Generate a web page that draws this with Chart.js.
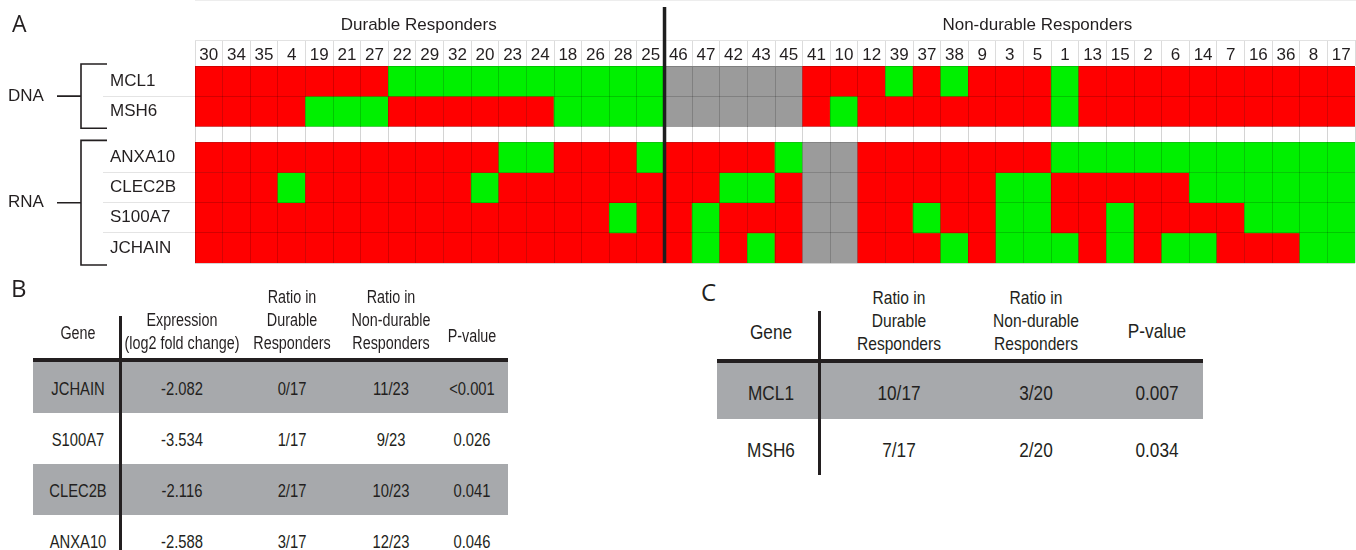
<!DOCTYPE html>
<html>
<head>
<meta charset="utf-8">
<script src="https://cdn.jsdelivr.net/npm/chart.js@4.4.0/dist/chart.umd.min.js"></script>
<style>
  body { margin: 0; background: #fff; width: 1356px; height: 550px; overflow: hidden; position: relative; color: #231f20; }
  #heatWrap { position: absolute; left: 0; top: 0; width: 1356px; height: 272px; }
  .t { position: absolute; transform: translate(-50%, -50%) scaleX(0.82); text-align: center; white-space: pre;
       font-family: "Liberation Sans", Arial, sans-serif; line-height: 23px; }
  .box { position: absolute; }
  .panel { position: absolute; font-family: "Open Sans", "Liberation Sans", sans-serif; font-size: 24px; line-height: 26px; }
</style>
</head>
<body>
<div id="heatWrap"><canvas id="heat" width="1356" height="272"></canvas></div>
<div id="tables"></div>
<script>
// patients, in heatmap column order
const patients = ['30','34','35','4','19','21','27','22','29','32','20','23','24','18','26','28','25',
  '46','47','42','43','45','41','10','12','39','37','38','9','3','5','1','13','15','2','6','14','7','16','36','8','17'];
const durableCount = 17;
const groupTitles = ['Durable Responders', 'Non-durable Responders'];
const groupCenters = [7.6, 30];

const genes = ['MCL1', 'MSH6', 'ANXA10', 'CLEC2B', 'S100A7', 'JCHAIN'];
const geneGroups = ['DNA', 'DNA', 'RNA', 'RNA', 'RNA', 'RNA'];

// 0 = red, 1 = green, null = not available (grey)
const N = null;
const MCL1   = [0,0,0,0,0,0,0, 1,1,1,1,1,1,1,1,1,1, N,N,N,N,N, 0,0,0,1,0,1,0,0,0,1, 0,0,0,0,0,0,0,0,0,0];
const MSH6   = [0,0,0,0, 1,1,1, 0,0,0,0,0,0, 1,1,1,1, N,N,N,N,N, 0,1, 0,0,0,0,0,0,0, 1, 0,0,0,0,0,0,0,0,0,0];
const ANXA10 = [0,0,0,0,0,0,0,0,0,0,0, 1,1, 0,0,0, 1, 0,0,0,0, 1, N,N, 0,0,0,0,0,0,0, 1,1,1,1,1,1,1,1,1,1,1];
const CLEC2B = [0,0,0, 1, 0,0,0,0,0,0, 1, 0,0,0,0,0,0, 0,0, 1,1, 0, N,N, 0,0,0,0,0, 1,1, 0,0,0,0,0, 1,1,1,1,1,1];
const S100A7 = [0,0,0,0,0,0,0,0,0,0,0,0,0,0,0, 1, 0, 0, 1, 0,0,0, N,N, 0,0, 1, 0,0, 1,1, 0,0, 1, 0,0,0,0, 1,1,1,1];
const JCHAIN = [0,0,0,0,0,0,0,0,0,0,0,0,0,0,0,0,0, 0, 1, 0, 1, 0, N,N, 0,0,0, 1, 0, 1,1,1, 0, 1, 0, 1,1, 0,0,0, 1,1];

// table B
const tableBHeaders = ['Gene', 'Expression\n(log2 fold change)', 'Ratio in\nDurable\nResponders', 'Ratio in\nNon-durable\nResponders', 'P-value'];
const tableBGenes = ['JCHAIN', 'S100A7', 'CLEC2B', 'ANXA10'];
const tableBExpression = ['-2.082', '-3.534', '-2.116', '-2.588'];
const tableBDurable = ['0/17', '1/17', '2/17', '3/17'];
const tableBNonDurable = ['11/23', '9/23', '10/23', '12/23'];
const tableBPValue = ['<0.001', '0.026', '0.041', '0.046'];

// table C
const tableCHeaders = ['Gene', 'Ratio in\nDurable\nResponders', 'Ratio in\nNon-durable\nResponders', 'P-value'];
const tableCGenes = ['MCL1', 'MSH6'];
const tableCDurable = ['10/17', '7/17'];
const tableCNonDurable = ['3/20', '2/20'];
const tableCPValue = ['0.007', '0.034'];

// ---------- heatmap ----------
const cells = {MCL1, MSH6, ANXA10, CLEC2B, S100A7, JCHAIN};
const ROW_GAP = 16 / 30;
const rowTop = i => i + (i >= 2 ? ROW_GAP : 0);
const yMax = genes.length + ROW_GAP;
const colorOf = v => v === null ? '#9b9b9b' : (v ? '#00f000' : '#ff0000');

const datasets = genes.map((g, i) => ({
  label: g,
  data: cells[g].map(() => [rowTop(i), rowTop(i) + 1]),
  backgroundColor: cells[g].map(colorOf),
  borderWidth: 0,
  grouped: false,
  barPercentage: 1,
  categoryPercentage: 1,
}));

const boundaries = [];
genes.forEach((g, i) => { boundaries.push(rowTop(i)); });
boundaries.push(2, yMax);
const innerLines = [1, rowTop(3), rowTop(4), rowTop(5)];

const panelDecor = {
  id: 'panelDecor',
  afterDraw(chart) {
    const {ctx, chartArea, scales: {x, y}} = chart;
    ctx.save();
    // header row top line
    ctx.strokeStyle = '#e2e2e2';
    ctx.lineWidth = 1;
    ctx.beginPath();
    ctx.moveTo(chartArea.left, chartArea.top - 26 + 0.5);
    ctx.lineTo(chartArea.right, chartArea.top - 26 + 0.5);
    ctx.stroke();

    // durable / non-durable divider
    const xd = (x.getPixelForValue(durableCount - 1) + x.getPixelForValue(durableCount)) / 2;
    ctx.strokeStyle = '#1e1e1e';
    ctx.lineWidth = 3.5;
    ctx.beginPath();
    ctx.moveTo(xd, 7);
    ctx.lineTo(xd, chartArea.bottom);
    ctx.stroke();

    // group titles
    ctx.fillStyle = '#231f20';
    ctx.font = '17px "Liberation Sans", Arial, sans-serif';
    ctx.textAlign = 'center';
    ctx.textBaseline = 'middle';
    groupTitles.forEach((t, i) => ctx.fillText(t, x.getPixelForValue(groupCenters[i]), 25));

    // panel letter
    ctx.font = '23px "Open Sans", sans-serif';
    ctx.textAlign = 'left';
    ctx.fillText('A', 12, 25);

    // DNA / RNA brackets
    ctx.font = '17px "Liberation Sans", Arial, sans-serif';
    ctx.strokeStyle = '#231f20';
    ctx.lineWidth = 1.6;
    [...new Set(geneGroups)].forEach(name => {
      const from = geneGroups.indexOf(name);
      const to = geneGroups.lastIndexOf(name);
      const top = y.getPixelForValue(rowTop(from)) - 2;
      const bottom = y.getPixelForValue(rowTop(to) + 1) + 2;
      const mid = (top + bottom) / 2;
      ctx.beginPath();
      ctx.moveTo(107, top); ctx.lineTo(81, top); ctx.lineTo(81, bottom); ctx.lineTo(107, bottom);
      ctx.moveTo(57, mid); ctx.lineTo(81, mid);
      ctx.stroke();
      ctx.fillText(name, 8, mid);
    });
    ctx.restore();
  }
};

new Chart(document.getElementById('heat'), {
  type: 'bar',
  data: { labels: patients, datasets: datasets },
  plugins: [panelDecor],
  options: {
    responsive: false,
    animation: false,
    layout: { padding: { top: 40, left: 110, right: 1, bottom: 9 } },
    plugins: { legend: { display: false }, tooltip: { enabled: false } },
    scales: {
      x: {
        type: 'category',
        position: 'top',
        offset: true,
        grid: { offset: true, color: 'rgba(0,0,0,0.17)', z: 1, drawTicks: true, tickLength: 26, tickColor: '#dcdcdc' },
        border: { display: true, color: '#dcdcdc' },
        ticks: { color: '#231f20', font: { size: 17, family: '"Liberation Sans", Arial, sans-serif' }, padding: -26, maxRotation: 0, autoSkip: false },
        afterFit: s => { s.height = 26; s.paddingLeft = 0; s.paddingRight = 0; },
      },
      y: {
        type: 'linear',
        reverse: true,
        min: 0,
        max: yMax,
        weight: 1,
        afterBuildTicks: s => { s.ticks = genes.map((g, i) => ({ value: rowTop(i) + 0.5 })); },
        ticks: {
          callback: (v, i) => genes[i],
          crossAlign: 'far',
          color: '#231f20',
          font: { size: 17, family: '"Liberation Sans", Arial, sans-serif' },
        },
        grid: { display: false },
        border: { display: false },
        afterFit: s => { s.width = 85; s.paddingTop = 0; s.paddingBottom = 0; },
      },
      yLines: {
        type: 'linear',
        position: 'left',
        reverse: true,
        min: 0,
        max: yMax,
        weight: 0,
        afterBuildTicks: s => { s.ticks = boundaries.map(v => ({ value: v })); },
        ticks: { display: false },
        grid: {
          color: 'rgba(0,0,0,0.17)',
          z: 1,
          drawTicks: true,
          tickLength: 92,
          tickColor: c => innerLines.some(v => Math.abs(v - c.tick.value) < 1e-6) ? '#e4e4e4' : 'rgba(0,0,0,0)',
        },
        border: { display: false },
        afterFit: s => { s.width = 0; s.paddingTop = 0; s.paddingBottom = 0; },
      },
    },
  },
});

// ---------- tables ----------
const host = document.getElementById('tables');
function addText(text, cx, cy, size) {
  const d = document.createElement('div');
  d.className = 't';
  d.style.left = cx + 'px';
  d.style.top = cy + 'px';
  d.style.fontSize = size + 'px';
  d.textContent = text;
  host.appendChild(d);
}
function addBox(x, y, w, h, color) {
  const d = document.createElement('div');
  d.className = 'box';
  Object.assign(d.style, { left: x + 'px', top: y + 'px', width: w + 'px', height: h + 'px', background: color });
  host.appendChild(d);
}
function addPanel(letter, x, y) {
  const d = document.createElement('div');
  d.className = 'panel';
  d.style.left = x + 'px';
  d.style.top = y + 'px';
  d.textContent = letter;
  host.appendChild(d);
}
function drawTable(t) {
  const w = t.right - t.left;
  t.columns[0].forEach((_, r) => {
    if (r % 2 === 0) addBox(t.left, t.rowTop + r * t.rowH, w, t.rowH, '#a7a9ac');
  });
  addBox(t.left, t.lineY - 2, w, 4, '#231f20');
  addBox(t.vLineX - 1.5, t.vLineTop, 3, t.vLineBottom - t.vLineTop, '#231f20');
  t.headers.forEach((h, c) => {
    const n = h.split('\n').length;
    const cy = n === 1 ? t.singleCy[c === 0 ? 0 : 1] : t.lastLineCy - (n - 1) * 23 / 2;
    const size = n === 1 ? t.headSingleSize : t.headSize;
    addText(h, t.centers[c], cy, size);
  });
  t.columns.forEach((col, c) => {
    col.forEach((v, r) => addText(v, t.centers[c], t.rowTop + r * t.rowH + t.rowH / 2 + 1, t.cellSize));
  });
}

addPanel('B', 11, 275);
drawTable({
  left: 33, right: 508, lineY: 360, vLineX: 120, vLineTop: 316, vLineBottom: 552,
  rowTop: 362, rowH: 51, centers: [78, 182, 292, 391, 472],
  headers: tableBHeaders, lastLineCy: 343, singleCy: [333, 336],
  headSize: 17.5, headSingleSize: 17.5, cellSize: 18,
  columns: [tableBGenes, tableBExpression, tableBDurable, tableBNonDurable, tableBPValue],
});

addPanel('C', 701, 279);
drawTable({
  left: 717, right: 1203, lineY: 361, vLineX: 819, vLineTop: 311, vLineBottom: 475,
  rowTop: 362, rowH: 57, centers: [771, 899, 1036, 1157],
  headers: tableCHeaders, lastLineCy: 343, singleCy: [331, 330],
  headSize: 19, headSingleSize: 21, cellSize: 21,
  columns: [tableCGenes, tableCDurable, tableCNonDurable, tableCPValue],
});
</script>
</body>
</html>
